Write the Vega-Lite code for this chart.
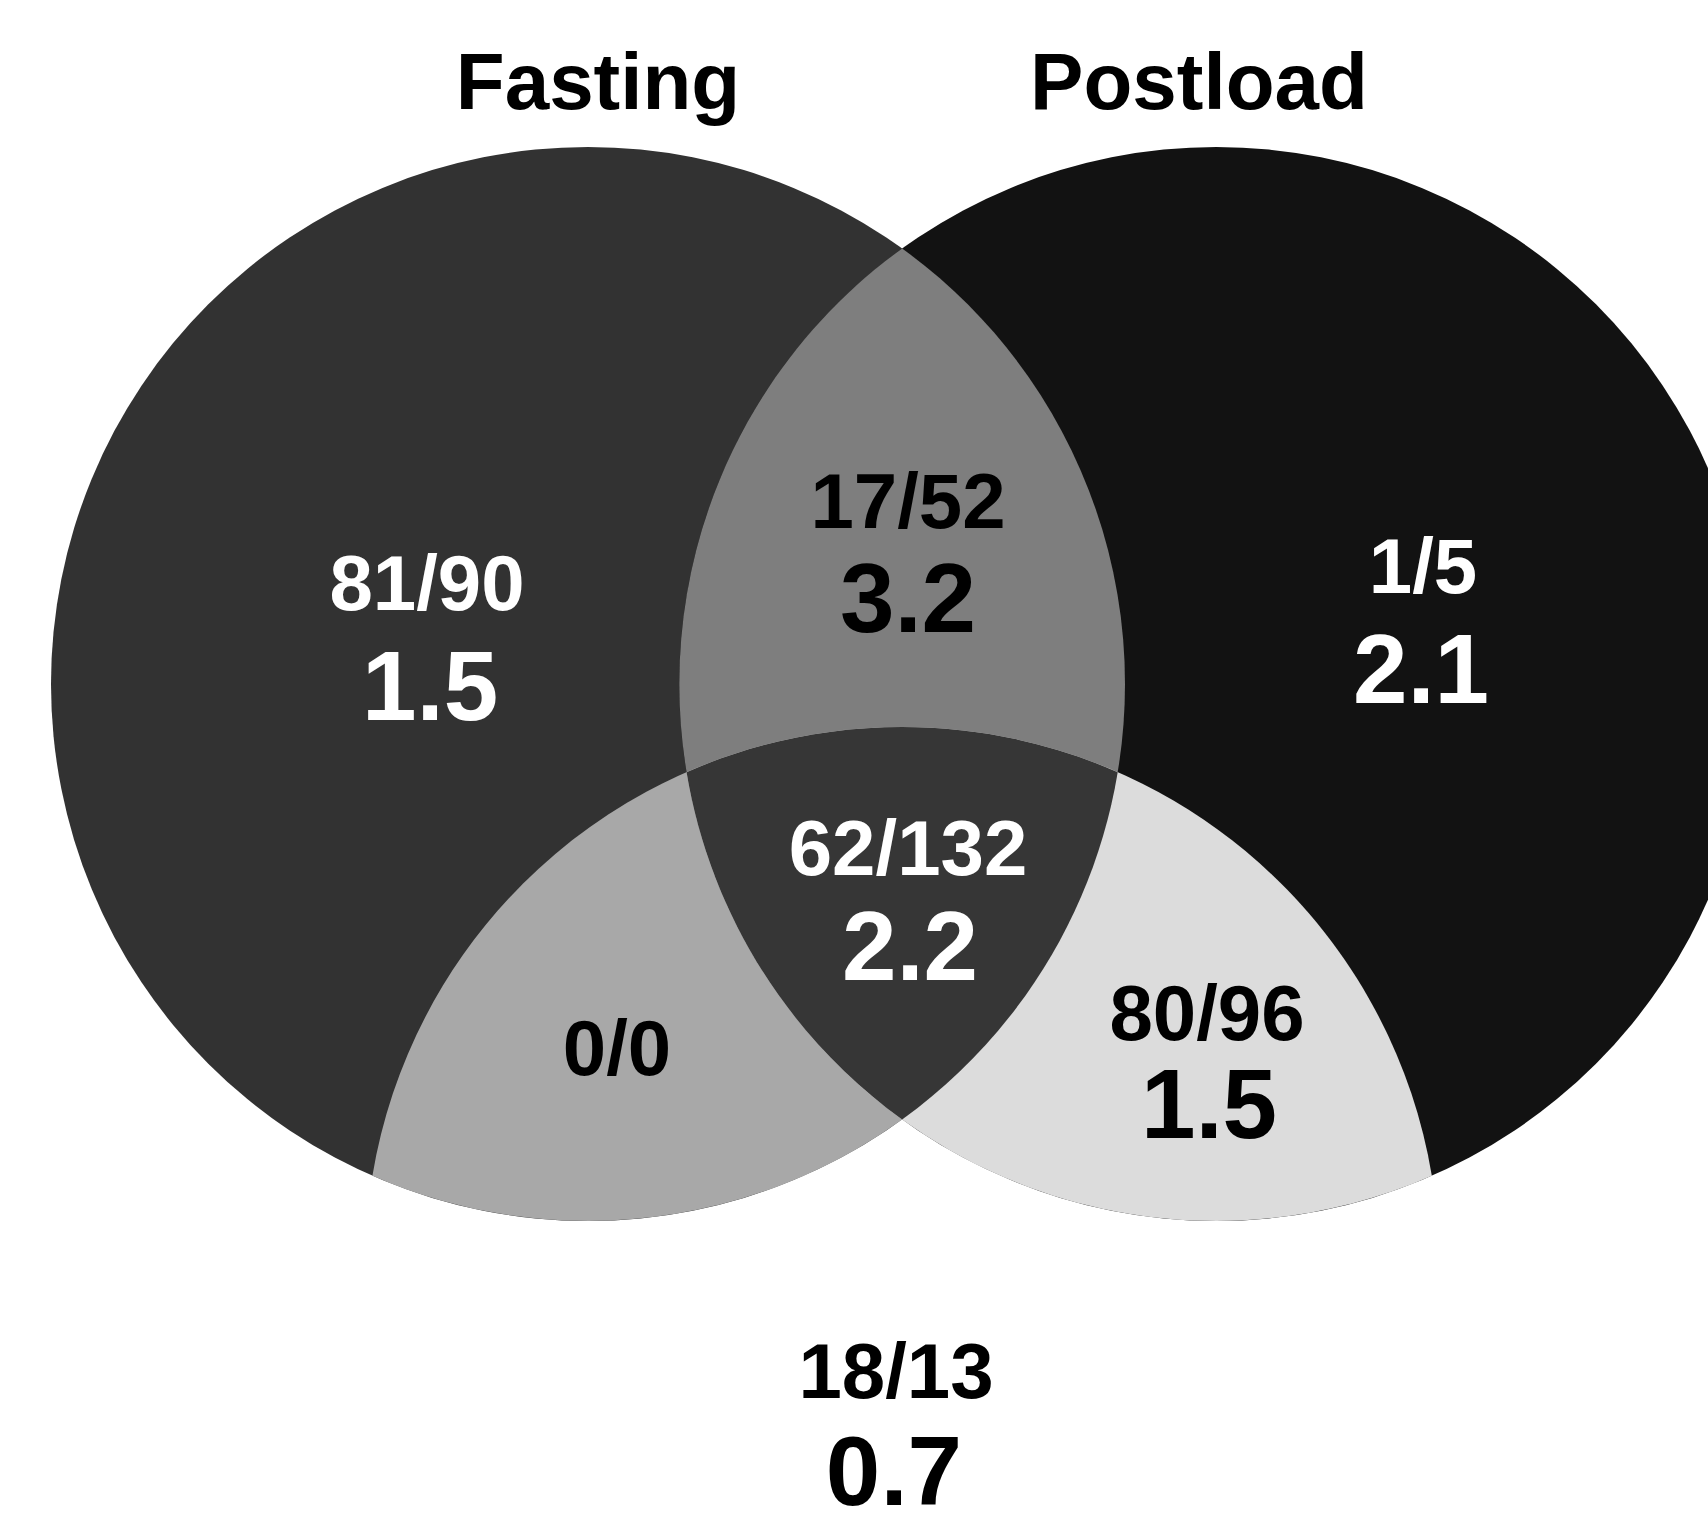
{
  "$schema": "https://vega.github.io/schema/vega-lite/v6.json",
  "width": 1708,
  "height": 1527,
  "autosize": {"type": "none"},
  "padding": 0,
  "background": "white",
  "config": {"view": {"stroke": null}},
  "datasets": {
    "sets": [
      {"region": "Other", "cx": 0.585, "cy": -1.08},
      {"region": "Fasting", "cx": 0, "cy": 0},
      {"region": "Postload", "cx": 1.17, "cy": 0},
      {"region": "Fasting & Postload", "cx": 0.585, "cy": 0},
      {"region": "Fasting & Other", "cx": 0.2925, "cy": -0.54},
      {"region": "Postload & Other", "cx": 0.8775, "cy": -0.54},
      {"region": "All three", "cx": 0.585, "cy": -0.45}
    ],
    "labels": [
      {"region": "Fasting", "count": "81/90", "ratio": 1.5, "lx": -0.2998, "ly": 0.1378, "rx": -0.2942, "ry": -0.067},
      {"region": "Postload", "count": "1/5", "ratio": 2.1, "lx": 1.555, "ly": 0.1695, "rx": 1.5512, "ry": -0.0354},
      {"region": "Fasting & Postload", "count": "17/52", "ratio": 3.2, "lx": 0.5959, "ly": 0.2905, "rx": 0.5959, "ry": 0.0968},
      {"region": "All three", "count": "62/132", "ratio": 2.2, "lx": 0.5959, "ly": -0.3557, "rx": 0.5996, "ry": -0.5512},
      {"region": "Fasting & Other", "count": "0/0", "ratio": null, "lx": 0.054, "ly": -0.7281, "rx": null, "ry": null},
      {"region": "Postload & Other", "count": "80/96", "ratio": 1.5, "lx": 1.1527, "ly": -0.6629, "rx": 1.1564, "ry": -0.8454},
      {"region": "Other", "count": "18/13", "ratio": 0.7, "lx": 0.5736, "ly": -1.3296, "rx": 0.5698, "ry": -1.5289}
    ],
    "titles": [
      {"title": "Fasting", "tx": 0.0186, "ty": 1.0708},
      {"title": "Postload", "tx": 1.1378, "ty": 1.0708}
    ]
  },
  "layer": [
    {
      "data": {"name": "sets"},
      "mark": {"type": "point", "filled": true, "size": 1153476, "opacity": 1, "strokeWidth": 0},
      "encoding": {
        "x": {"field": "cx", "type": "quantitative", "scale": {"domain": [-1.09497, 2.08566], "nice": false, "zero": false}, "axis": null},
        "y": {"field": "cy", "type": "quantitative", "scale": {"domain": [-1.56983, 1.27374], "nice": false, "zero": false}, "axis": null},
        "shape": {
          "field": "region", "type": "nominal", "legend": null,
          "scale": {
            "domain": ["Other", "Fasting", "Postload", "Fasting & Postload", "Fasting & Other", "Postload & Other", "All three"],
            "range": [
              "circle", "circle", "circle",
              "M0,-0.81103A1,1,0,0,1,0,0.81103A1,1,0,0,1,0,-0.81103Z",
              "M0.69393,-0.37588A1,1,0,0,1,-0.69393,0.37588A1,1,0,0,1,0.69393,-0.37588Z",
              "M-0.69393,-0.37588A1,1,0,0,1,0.69393,0.37588A1,1,0,0,1,-0.69393,-0.37588Z",
              "M-0.40143,-0.28588A1,1,0,0,1,0.40143,-0.28588A1,1,0,0,1,0,0.36103A1,1,0,0,1,-0.40143,-0.28588Z"
            ]
          }
        },
        "color": {
          "field": "region", "type": "nominal", "legend": null,
          "scale": {
            "domain": ["Other", "Fasting", "Postload", "Fasting & Postload", "Fasting & Other", "Postload & Other", "All three"],
            "range": ["#ffffff", "#323232", "#121212", "#7e7e7e", "#a8a8a8", "#dcdcdc", "#363636"]
          }
        }
      }
    },
    {
      "data": {"name": "labels"},
      "mark": {"type": "text", "font": "Liberation Sans", "fontWeight": "bold", "fontSize": 78, "align": "center", "baseline": "alphabetic"},
      "encoding": {
        "x": {"field": "lx", "type": "quantitative", "scale": {"domain": [-1.09497, 2.08566], "nice": false, "zero": false}, "axis": null},
        "y": {"field": "ly", "type": "quantitative", "scale": {"domain": [-1.56983, 1.27374], "nice": false, "zero": false}, "axis": null},
        "text": {"field": "count", "type": "nominal"},
        "color": {"condition": {"test": "datum.region == 'Fasting' || datum.region == 'Postload' || datum.region == 'All three'", "value": "#ffffff"}, "value": "#000000"}
      }
    },
    {
      "data": {"name": "labels"},
      "transform": [{"filter": "isValid(datum.ratio)"}],
      "mark": {"type": "text", "font": "Liberation Sans", "fontWeight": "bold", "fontSize": 98, "align": "center", "baseline": "alphabetic"},
      "encoding": {
        "x": {"field": "rx", "type": "quantitative", "scale": {"domain": [-1.09497, 2.08566], "nice": false, "zero": false}, "axis": null},
        "y": {"field": "ry", "type": "quantitative", "scale": {"domain": [-1.56983, 1.27374], "nice": false, "zero": false}, "axis": null},
        "text": {"field": "ratio", "type": "quantitative", "format": ".1f"},
        "color": {"condition": {"test": "datum.region == 'Fasting' || datum.region == 'Postload' || datum.region == 'All three'", "value": "#ffffff"}, "value": "#000000"}
      }
    },
    {
      "data": {"name": "titles"},
      "mark": {"type": "text", "font": "Liberation Sans", "fontWeight": "bold", "fontSize": 80, "align": "center", "baseline": "alphabetic", "color": "#000000"},
      "encoding": {
        "x": {"field": "tx", "type": "quantitative", "scale": {"domain": [-1.09497, 2.08566], "nice": false, "zero": false}, "axis": null},
        "y": {"field": "ty", "type": "quantitative", "scale": {"domain": [-1.56983, 1.27374], "nice": false, "zero": false}, "axis": null},
        "text": {"field": "title", "type": "nominal"}
      }
    }
  ]
}
